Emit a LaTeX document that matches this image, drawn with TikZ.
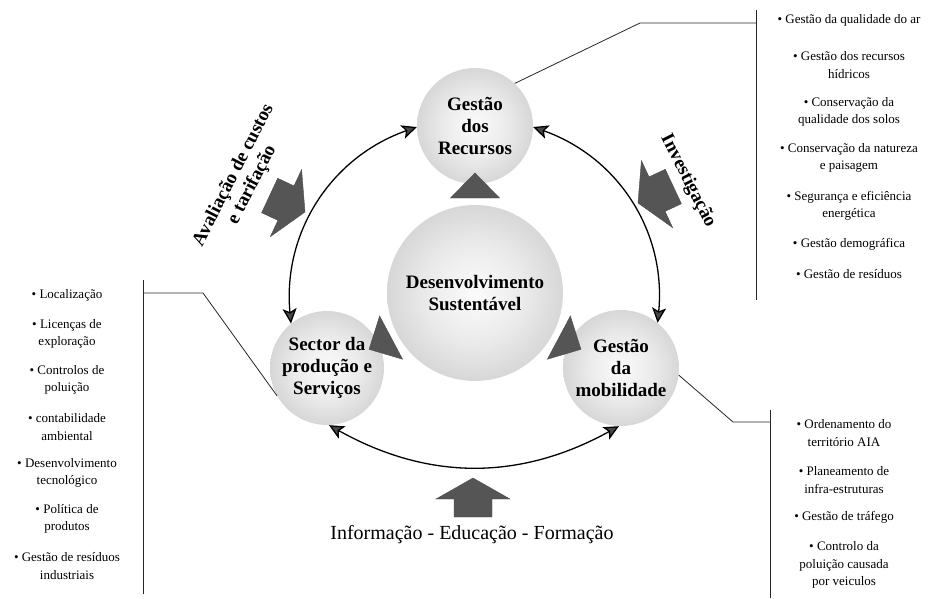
\documentclass[tikz,border=0pt]{standalone}
\usepackage{fontspec}
\setmainfont{Liberation Serif}
\usetikzlibrary{arrows.meta,calc}

\definecolor{tipgray}{RGB}{70,70,70}
\definecolor{blkgray}{RGB}{85,85,85}
\pgfdeclareradialshading{sphere}{\pgfpoint{0bp}{0bp}}{color(0bp)=(gray!3); color(14bp)=(gray!16); color(34bp)=(gray!44); color(50bp)=(gray!74)}

\begin{document}
\begin{tikzpicture}[x=1pt,y=1pt]
   \tikzset{ball/.style={circle, shading=sphere, inner sep=0pt, align=center, font=\bfseries\fontsize{19}{22}\selectfont},
            tri/.style={fill=blkgray, draw=black!70, line width=0.4pt},
            blk/.style={fill=blkgray, draw=black!70, line width=0.4pt},
            arc/.style={{Stealth[length=15pt,width=14pt,inset=3.5pt,fill=tipgray]}-{Stealth[length=15pt,width=14pt,inset=3.5pt,fill=tipgray]}, line width=1.3pt},
            lnk/.style={line width=0.8pt, black!85},
            lst/.style={align=center, font=\fontsize{13}{17.5}\selectfont},
            rot/.style={align=center, font=\bfseries\fontsize{19}{21}\selectfont}};

\useasboundingbox (0,0) rectangle (930,-598);

\node[ball, minimum size=176pt] (dev) at (475,-293) {Desenvolvimento\\Sustentável};
\node[ball, minimum size=116pt] (res) at (475,-126) {Gestão\\dos\\Recursos};
\node[ball, minimum size=114pt] (sec) at (327,-368) {Sector da\\produção e\\Serviços};
\node[ball, minimum size=116pt] (mob) at (621,-368) {Gestão\\da\\mobilidade};

%triangles-------------------------

\foreach \a in {90,208,332}{
    \fill[tri] ($(dev.center)+(\a:120)$) -- ($(dev.center)+(\a:95)+(\a+90:24.5)$) -- ($(dev.center)+(\a:95)+(\a-90:24.5)$) -- cycle;
}

%arcs------------------------------

\draw[arc] (res.181) to[bend right=38] (sec.129);
\draw[arc] (res.-1) to[bend left=38] (mob.51);
\draw[arc] (sec.-88) to[bend right=29] (mob.-92);

%block arrows----------------------

\foreach \p/\r in {{(305,-212)}/-115, {(638,-203)}/115, {(473,-478)}/0}{
    \filldraw[blk, shift={\p}, rotate=\r] (0,0) -- (37,-21) -- (19,-21) -- (19,-39) -- (-19,-39) -- (-19,-21) -- (-37,-21) -- cycle;
}

\node[rot, rotate=63] (aval) at (243,-180) {Avaliação de custos\\e tarifação};
\node[rot, rotate=-63] (inv) at (688,-181) {Investigação};
\node[font=\fontsize{20}{20}\selectfont] (inf) at (472,-535) {Informação - Educação - Formação};

%lists----------------------------

\coordinate (rk) at (640,-23);
\coordinate (rj) at (756,-23);
\coordinate (rt) at (756,-10);
\coordinate (rb) at (756,-300);
\draw[lnk] (res.47) -- (rk) -- (rj);
\draw[lnk] (rt) -- (rb);

\node[lst] (r1) at (849,-20) {• Gestão da qualidade do ar};
\node[lst] (r2) at (849,-65) {• Gestão dos recursos\\hídricos};
\node[lst] (r3) at (849,-112) {• Conservação da\\qualidade dos solos};
\node[lst] (r4) at (849,-158) {• Conservação da natureza\\e paisagem};
\node[lst] (r5) at (849,-206) {• Segurança e eficiência\\energética};
\node[lst] (r6) at (849,-244) {• Gestão demográfica};
\node[lst] (r7) at (849,-274) {• Gestão de resíduos};

\coordinate (lk) at (203,-293);
\coordinate (lj) at (143,-293);
\coordinate (lt) at (143,-280);
\coordinate (lb) at (143,-594);
\draw[lnk] (sec.209) -- (lk) -- (lj);
\draw[lnk] (lt) -- (lb);

\node[lst] (l1) at (67,-295) {• Localização};
\node[lst] (l2) at (67,-334) {• Licenças de\\exploração};
\node[lst] (l3) at (67,-380) {• Controlos de\\poluição};
\node[lst] (l4) at (67,-427) {• contabilidade\\ambiental};
\node[lst] (l5) at (67,-473) {• Desenvolvimento\\tecnológico};
\node[lst] (l6) at (67,-519) {• Política de\\produtos};
\node[lst] (l7) at (67,-566) {• Gestão de resíduos\\industriais};

\coordinate (mk) at (733,-422);
\coordinate (mj) at (770,-422);
\coordinate (mt) at (770,-410);
\coordinate (mb) at (770,-598);
\draw[lnk] (mob.-7) -- (mk) -- (mj);
\draw[lnk] (mt) -- (mb);

\node[lst] (m1) at (844,-433) {• Ordenamento do\\território AIA};
\node[lst] (m2) at (844,-480) {• Planeamento de\\infra-estruturas};
\node[lst] (m3) at (844,-517) {• Gestão de tráfego};
\node[lst] (m4) at (844,-565) {• Controlo da\\poluição causada\\por veiculos};

\end{tikzpicture}
\end{document}
